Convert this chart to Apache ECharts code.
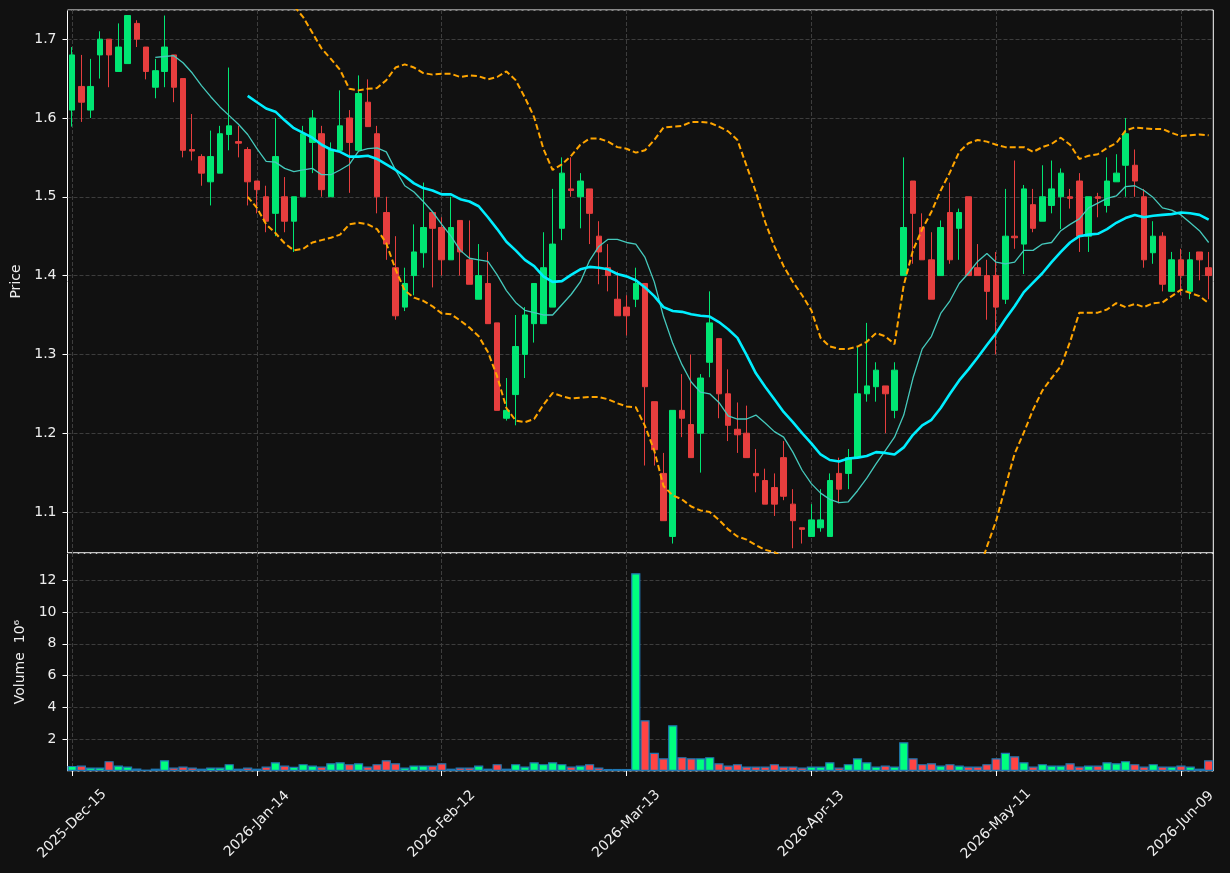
<!DOCTYPE html>
<html>
<head>
<meta charset="utf-8">
<script src="https://cdn.jsdelivr.net/npm/echarts@6/dist/echarts.min.js"></script>
<style>
html, body { margin: 0; padding: 0; background: #111111; }
#chart { width: 1230px; height: 873px; }
</style>
</head>
<body>
<div id="chart"></div>
<script>
// OHLC, one value per trading day
var opens = [
  1.61, 1.64, 1.61, 1.68, 1.70, 1.659, 1.669, 1.72, 1.69, 1.639,
  1.659, 1.68, 1.65, 1.56, 1.551, 1.519, 1.53, 1.579, 1.57, 1.56,
  1.52, 1.50, 1.479, 1.50, 1.469, 1.50, 1.569, 1.58, 1.50, 1.559,
  1.60, 1.559, 1.62, 1.58, 1.48, 1.41, 1.36, 1.40, 1.429, 1.48,
  1.461, 1.42, 1.47, 1.42, 1.37, 1.39, 1.34, 1.219, 1.249, 1.30,
  1.339, 1.339, 1.36, 1.46, 1.51, 1.50, 1.51, 1.45, 1.41, 1.37,
  1.36, 1.37, 1.39, 1.24, 1.149, 1.069, 1.229, 1.211, 1.20, 1.29,
  1.32, 1.25, 1.205, 1.20, 1.149, 1.14, 1.131, 1.169, 1.11, 1.08,
  1.069, 1.08, 1.069, 1.149, 1.149, 1.169, 1.25, 1.259, 1.26, 1.229,
  1.40, 1.52, 1.461, 1.42, 1.40, 1.48, 1.46, 1.50, 1.41, 1.40,
  1.40, 1.37, 1.45, 1.44, 1.49, 1.469, 1.489, 1.50, 1.50, 1.52,
  1.45, 1.50, 1.489, 1.519, 1.54, 1.54, 1.50, 1.429, 1.45, 1.38,
  1.42, 1.38, 1.43, 1.41
];
var closes = [
  1.68, 1.62, 1.64, 1.70, 1.68, 1.69, 1.73, 1.70, 1.659, 1.66,
  1.69, 1.639, 1.559, 1.558, 1.53, 1.551, 1.58, 1.59, 1.568, 1.519,
  1.509, 1.469, 1.551, 1.469, 1.50, 1.58, 1.60, 1.509, 1.56, 1.59,
  1.569, 1.631, 1.589, 1.50, 1.44, 1.349, 1.39, 1.43, 1.461, 1.46,
  1.42, 1.461, 1.43, 1.389, 1.40, 1.339, 1.229, 1.229, 1.31, 1.35,
  1.39, 1.41, 1.44, 1.53, 1.508, 1.52, 1.479, 1.43, 1.40, 1.349,
  1.349, 1.39, 1.259, 1.179, 1.089, 1.229, 1.219, 1.169, 1.27, 1.34,
  1.25, 1.21, 1.198, 1.169, 1.146, 1.11, 1.11, 1.12, 1.089, 1.078,
  1.09, 1.09, 1.14, 1.129, 1.169, 1.25, 1.26, 1.28, 1.25, 1.28,
  1.461, 1.479, 1.42, 1.37, 1.461, 1.42, 1.48, 1.40, 1.40, 1.38,
  1.36, 1.45, 1.448, 1.51, 1.46, 1.50, 1.51, 1.53, 1.498, 1.45,
  1.50, 1.498, 1.52, 1.53, 1.58, 1.52, 1.42, 1.45, 1.389, 1.42,
  1.40, 1.42, 1.42, 1.40
];
var lows = [
  1.589, 1.595, 1.60, 1.65, 1.639, 1.659, 1.669, 1.69, 1.649, 1.625,
  1.639, 1.62, 1.55, 1.546, 1.514, 1.489, 1.53, 1.559, 1.55, 1.489,
  1.479, 1.455, 1.45, 1.455, 1.43, 1.50, 1.53, 1.50, 1.50, 1.559,
  1.505, 1.559, 1.589, 1.479, 1.42, 1.344, 1.355, 1.375, 1.41, 1.385,
  1.40, 1.42, 1.40, 1.389, 1.37, 1.339, 1.229, 1.216, 1.21, 1.27,
  1.315, 1.339, 1.36, 1.445, 1.50, 1.46, 1.44, 1.389, 1.38, 1.349,
  1.324, 1.36, 1.159, 1.159, 1.089, 1.06, 1.195, 1.169, 1.15, 1.271,
  1.219, 1.19, 1.175, 1.169, 1.125, 1.11, 1.095, 1.115, 1.054, 1.06,
  1.069, 1.075, 1.069, 1.111, 1.129, 1.169, 1.24, 1.24, 1.20, 1.219,
  1.40, 1.415, 1.42, 1.37, 1.40, 1.415, 1.42, 1.40, 1.40, 1.344,
  1.30, 1.364, 1.434, 1.402, 1.455, 1.469, 1.479, 1.459, 1.485, 1.43,
  1.43, 1.474, 1.48, 1.519, 1.50, 1.50, 1.41, 1.415, 1.38, 1.38,
  1.375, 1.37, 1.394, 1.37
];
var highs = [
  1.69, 1.68, 1.675, 1.71, 1.70, 1.72, 1.73, 1.724, 1.69, 1.675,
  1.73, 1.68, 1.65, 1.605, 1.554, 1.584, 1.59, 1.664, 1.59, 1.563,
  1.52, 1.514, 1.60, 1.525, 1.50, 1.59, 1.61, 1.59, 1.569, 1.635,
  1.61, 1.654, 1.649, 1.59, 1.50, 1.45, 1.41, 1.465, 1.518, 1.48,
  1.474, 1.50, 1.47, 1.47, 1.44, 1.43, 1.34, 1.27, 1.35, 1.36,
  1.39, 1.455, 1.51, 1.55, 1.55, 1.53, 1.51, 1.469, 1.44, 1.405,
  1.375, 1.41, 1.39, 1.24, 1.175, 1.229, 1.275, 1.30, 1.275, 1.38,
  1.32, 1.281, 1.239, 1.235, 1.18, 1.155, 1.149, 1.19, 1.129, 1.08,
  1.11, 1.129, 1.149, 1.169, 1.18, 1.31, 1.34, 1.29, 1.26, 1.29,
  1.55, 1.52, 1.479, 1.455, 1.47, 1.518, 1.485, 1.50, 1.44, 1.42,
  1.43, 1.51, 1.546, 1.515, 1.51, 1.54, 1.546, 1.536, 1.51, 1.53,
  1.50, 1.505, 1.55, 1.554, 1.60, 1.56, 1.51, 1.469, 1.455, 1.43,
  1.434, 1.43, 1.43, 1.43
];
// volume, millions
var volumes = [
  0.32, 0.34, 0.22, 0.22, 0.62, 0.34, 0.28, 0.16, 0.09, 0.15,
  0.68, 0.22, 0.28, 0.22, 0.15, 0.22, 0.22, 0.43, 0.15, 0.22,
  0.15, 0.28, 0.55, 0.34, 0.26, 0.43, 0.34, 0.28, 0.49, 0.55,
  0.43, 0.49, 0.28, 0.43, 0.68, 0.49, 0.22, 0.34, 0.34, 0.34,
  0.49, 0.15, 0.22, 0.22, 0.34, 0.15, 0.43, 0.15, 0.43, 0.28,
  0.55, 0.43, 0.55, 0.43, 0.28, 0.34, 0.43, 0.22, 0.13, 0.13,
  0.13, 12.44, 3.19, 1.14, 0.80, 2.88, 0.87, 0.80, 0.80, 0.87,
  0.49, 0.34, 0.43, 0.28, 0.28, 0.28, 0.43, 0.28, 0.28, 0.22,
  0.28, 0.28, 0.55, 0.22, 0.43, 0.80, 0.55, 0.28, 0.34, 0.28,
  1.81, 0.80, 0.43, 0.49, 0.34, 0.43, 0.34, 0.28, 0.28, 0.43,
  0.80, 1.14, 0.93, 0.55, 0.28, 0.43, 0.34, 0.34, 0.49, 0.28,
  0.34, 0.34, 0.55, 0.49, 0.62, 0.43, 0.28, 0.43, 0.28, 0.28,
  0.34, 0.28, 0.15, 0.68
];

function lead(n, vals) { return new Array(n).fill(null).concat(vals); }

// thin moving average (starts day 10)
var ma10 = lead(9, [
  1.677, 1.678, 1.679, 1.670, 1.657, 1.641, 1.627, 1.614, 1.603, 1.592,
  1.579, 1.561, 1.545, 1.544, 1.536, 1.532, 1.534, 1.536, 1.528, 1.528,
  1.534, 1.541, 1.558, 1.561, 1.562, 1.557, 1.534, 1.514, 1.506, 1.494,
  1.481, 1.465, 1.450, 1.432, 1.422, 1.420, 1.418, 1.401, 1.381, 1.366,
  1.356, 1.353, 1.350, 1.350, 1.363, 1.376, 1.392, 1.419, 1.437, 1.446,
  1.446, 1.442, 1.440, 1.423, 1.392, 1.348, 1.314, 1.287, 1.265, 1.252,
  1.250, 1.239, 1.222, 1.218, 1.218, 1.223, 1.213, 1.202, 1.195, 1.176,
  1.153, 1.136, 1.124, 1.116, 1.112, 1.113, 1.127, 1.143, 1.161, 1.178,
  1.195, 1.223, 1.270, 1.307, 1.323, 1.352, 1.368, 1.390, 1.403, 1.418,
  1.428, 1.417, 1.415, 1.417, 1.432, 1.432, 1.440, 1.442, 1.457, 1.465,
  1.472, 1.486, 1.492, 1.498, 1.501, 1.513, 1.514, 1.508, 1.499, 1.486,
  1.483, 1.477, 1.467, 1.457, 1.442
]);
// thick moving average (starts day 20)
var ma20 = lead(19, [
  1.628, 1.620, 1.612, 1.608, 1.597, 1.587, 1.581, 1.575, 1.566, 1.560,
  1.557, 1.551, 1.551, 1.552, 1.548, 1.541, 1.534, 1.526, 1.517, 1.511,
  1.508, 1.503, 1.503, 1.497, 1.494, 1.488, 1.474, 1.459, 1.443, 1.432,
  1.420, 1.412, 1.399, 1.392, 1.393, 1.401, 1.408, 1.411, 1.410, 1.408,
  1.402, 1.399, 1.394, 1.385, 1.374, 1.360, 1.355, 1.354, 1.351, 1.349,
  1.348, 1.341, 1.332, 1.321, 1.299, 1.276, 1.259, 1.243, 1.227, 1.214,
  1.200, 1.187, 1.173, 1.166, 1.164, 1.168, 1.169, 1.171, 1.176, 1.175,
  1.173, 1.182, 1.198, 1.210, 1.217, 1.232, 1.250, 1.267, 1.281, 1.296,
  1.312, 1.327, 1.345, 1.361, 1.379, 1.391, 1.403, 1.417, 1.430, 1.442,
  1.450, 1.452, 1.453, 1.459, 1.467, 1.473, 1.477, 1.474, 1.476, 1.477,
  1.478, 1.480, 1.479, 1.477, 1.471
]);
// dashed bands
var bandUpper = lead(19, [
  1.756, 1.754, 1.759, 1.762, 1.753, 1.742, 1.728, 1.708, 1.688, 1.675,
  1.661, 1.637, 1.635, 1.637, 1.638, 1.648, 1.664, 1.668, 1.664, 1.657,
  1.655, 1.656, 1.656, 1.652, 1.654, 1.653, 1.649, 1.652, 1.659, 1.648,
  1.626, 1.601, 1.561, 1.534, 1.541, 1.552, 1.566, 1.574, 1.574, 1.570,
  1.563, 1.561, 1.556, 1.559, 1.572, 1.588, 1.589, 1.590, 1.595, 1.595,
  1.594, 1.589, 1.583, 1.572, 1.539, 1.506, 1.468, 1.437, 1.412, 1.392,
  1.375, 1.356, 1.321, 1.310, 1.307, 1.307, 1.310, 1.316, 1.327, 1.323,
  1.313, 1.388, 1.432, 1.459, 1.481, 1.508, 1.531, 1.557, 1.568, 1.572,
  1.570, 1.566, 1.563, 1.563, 1.563, 1.557, 1.563, 1.567, 1.575, 1.566,
  1.548, 1.552, 1.554, 1.562, 1.568, 1.584, 1.588, 1.587, 1.586, 1.586,
  1.581, 1.577, 1.578, 1.579, 1.578
]);
var bandLower = lead(19, [
  1.500, 1.486, 1.465, 1.454, 1.441, 1.432, 1.434, 1.442, 1.445, 1.448,
  1.452, 1.465, 1.467, 1.465, 1.459, 1.441, 1.408, 1.381, 1.372, 1.368,
  1.361, 1.352, 1.351, 1.343, 1.334, 1.323, 1.303, 1.272, 1.232, 1.216,
  1.214, 1.218, 1.236, 1.251, 1.247, 1.244, 1.245, 1.246, 1.246, 1.243,
  1.238, 1.234, 1.233, 1.209, 1.178, 1.133, 1.121, 1.116, 1.107, 1.102,
  1.100, 1.090, 1.078, 1.069, 1.065, 1.058, 1.052, 1.049, 1.042, 1.036,
  1.025, 1.018, 1.025, 1.022, 1.021, 1.029, 1.028, 1.026, 1.025, 1.027,
  1.032, 0.976, 0.964, 0.961, 0.953, 0.956, 0.969, 0.977, 0.994, 1.020,
  1.056, 1.089, 1.132, 1.174, 1.201, 1.230, 1.254, 1.270, 1.285, 1.316,
  1.353, 1.353, 1.353, 1.357, 1.365, 1.360, 1.364, 1.360, 1.365, 1.366,
  1.374, 1.382, 1.378, 1.374, 1.365
]);

// trading days (weekdays minus exchange holidays)
var holidays = ['2025-12-25', '2026-01-01', '2026-01-19', '2026-02-16', '2026-04-03', '2026-05-25'];
var MONTHS = ['Jan', 'Feb', 'Mar', 'Apr', 'May', 'Jun', 'Jul', 'Aug', 'Sep', 'Oct', 'Nov', 'Dec'];
var dates = [];
var t = Date.UTC(2025, 11, 15);
while (dates.length < opens.length) {
    var d = new Date(t);
    var iso = d.toISOString().slice(0, 10);
    if (d.getUTCDay() !== 0 && d.getUTCDay() !== 6 && holidays.indexOf(iso) < 0) {
        dates.push(d.getUTCFullYear() + '-' + MONTHS[d.getUTCMonth()] + '-' + ('0' + d.getUTCDate()).slice(-2));
    }
    t += 86400000;
}

var UP = '#00ff7f', DOWN = '#ff4444';
var UP_C = '#00e673', DOWN_C = '#e63e3e';
var TXT = '#eeeeee';
var FONT = 'DejaVu Sans';
var gridLine = {show: true, interval: 19, alignWithLabel: true, lineStyle: {color: '#3d3d3d', width: 1, type: [4, 2]}};

var candles = opens.map(function (o, i) { return [o, closes[i], lows[i], highs[i]]; });
var volBars = volumes.map(function (v, i) {
    return {value: v, itemStyle: {color: closes[i] >= opens[i] ? UP : DOWN}};
});

var myChart = echarts.init(document.getElementById('chart'));
var option = {
    backgroundColor: '#111111',
    animation: false,
    textStyle: {fontFamily: FONT},
    grid: [
        {left: 67.5, right: 16.7, top: 10, height: 543, show: true, borderColor: '#ffffff', borderWidth: 1},
        {left: 67.5, right: 16.7, top: 553, height: 218, show: true, borderColor: '#ffffff', borderWidth: 1}
    ],
    xAxis: [
        {
            type: 'category', gridIndex: 0, data: dates, boundaryGap: true,
            axisLine: {show: false}, axisTick: {show: false}, axisLabel: {show: false},
            splitLine: gridLine
        },
        {
            type: 'category', gridIndex: 1, data: dates, boundaryGap: true,
            axisLine: {show: false},
            axisTick: {show: true, interval: 19, alignWithLabel: true, length: 5, lineStyle: {color: '#ffffff'}},
            axisLabel: {
                interval: 19, rotate: 45, align: 'center', verticalAlign: 'middle', margin: 53,
                color: TXT, fontSize: 14, fontFamily: FONT
            },
            splitLine: gridLine
        }
    ],
    yAxis: [
        {
            type: 'value', gridIndex: 0, min: 1.048, max: 1.737, splitNumber: 7,
            name: 'Price', nameLocation: 'middle', nameGap: 42,
            nameTextStyle: {color: TXT, fontSize: 14, fontFamily: FONT},
            axisLine: {show: false},
            axisTick: {show: true, length: 5, lineStyle: {color: '#ffffff'}},
            axisLabel: {
                color: TXT, fontSize: 14, fontFamily: FONT, margin: 11,
                showMinLabel: false, showMaxLabel: false,
                formatter: function (v) { return v.toFixed(1); }
            },
            splitLine: {show: true, lineStyle: {color: '#3d3d3d', width: 1, type: [4, 2]}}
        },
        {
            type: 'value', gridIndex: 1, min: 0, max: 13.71, interval: 2,
            name: 'Volume  10\u2076', nameLocation: 'middle', nameGap: 40,
            nameTextStyle: {color: TXT, fontSize: 14, fontFamily: FONT},
            axisLine: {show: false},
            axisTick: {show: true, length: 5, lineStyle: {color: '#ffffff'}},
            axisLabel: {color: TXT, fontSize: 14, fontFamily: FONT, margin: 11, showMinLabel: false, showMaxLabel: false},
            splitLine: {show: true, lineStyle: {color: '#3d3d3d', width: 1, type: [4, 2]}}
        }
    ],
    series: [
        {
            type: 'candlestick', xAxisIndex: 0, yAxisIndex: 0, data: candles, barWidth: 6,
            itemStyle: {color: UP_C, color0: DOWN_C, borderColor: UP_C, borderColor0: DOWN_C, borderWidth: 1}
        },
        {
            type: 'line', xAxisIndex: 0, yAxisIndex: 0, data: ma10, showSymbol: false, symbol: 'none',
            lineStyle: {color: '#45c9bc', width: 1.3}
        },
        {
            type: 'line', xAxisIndex: 0, yAxisIndex: 0, data: ma20, showSymbol: false, symbol: 'none',
            lineStyle: {color: '#00eeff', width: 2.6}
        },
        {
            type: 'line', xAxisIndex: 0, yAxisIndex: 0, data: bandUpper, showSymbol: false, symbol: 'none',
            lineStyle: {color: '#ffa500', width: 2, type: [6, 3]}
        },
        {
            type: 'line', xAxisIndex: 0, yAxisIndex: 0, data: bandLower, showSymbol: false, symbol: 'none',
            lineStyle: {color: '#ffa500', width: 2, type: [6, 3]}
        },
        {
            type: 'bar', xAxisIndex: 1, yAxisIndex: 1, data: volBars, barWidth: '100%',
            itemStyle: {borderColor: '#1f77b4', borderWidth: 1.2}
        }
    ]
};
myChart.setOption(option);
</script>
</body>
</html>
